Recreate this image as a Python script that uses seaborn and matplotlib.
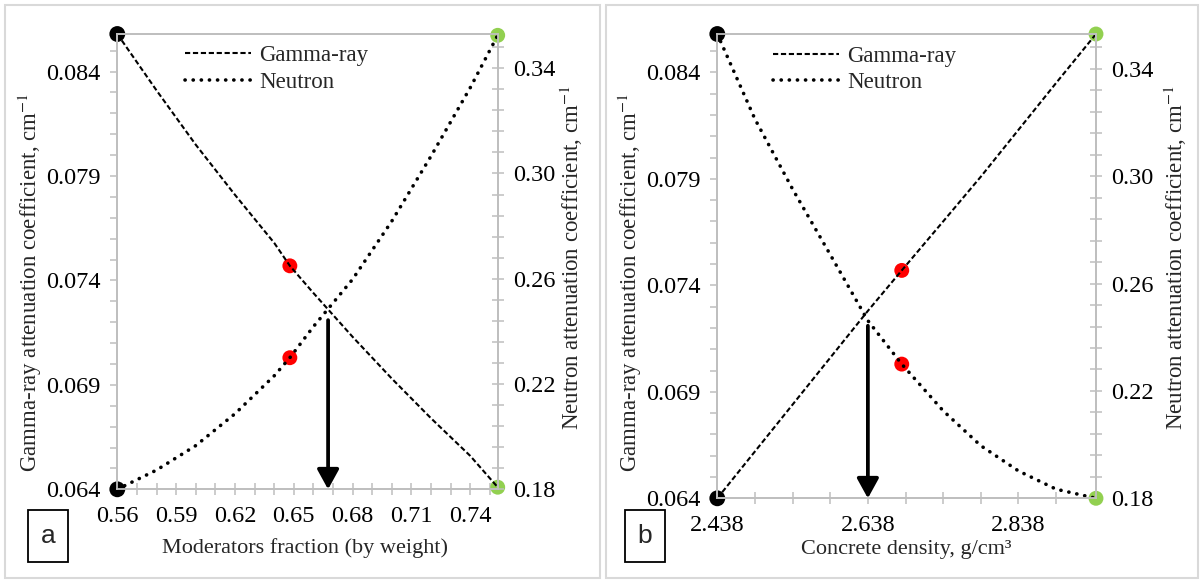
import matplotlib
matplotlib.use("Agg")
import matplotlib.pyplot as plt
from matplotlib.patches import Rectangle
from matplotlib.ticker import FixedLocator, FormatStrFormatter
import numpy as np
import seaborn as sns

# Panel (a): attenuation vs moderators fraction (by weight)
fraction = [0.560, 0.580, 0.600, 0.620, 0.640, 0.648, 0.660, 0.680, 0.700, 0.720, 0.740, 0.754]
gamma_fraction = [0.0858, 0.0831, 0.0805, 0.0781, 0.0758, 0.0747, 0.0734, 0.0713, 0.0693, 0.0674, 0.0656, 0.0641]
neutron_fraction = [0.1800, 0.1873, 0.1966, 0.2087, 0.2231, 0.2300, 0.2418, 0.2598, 0.2819, 0.3066, 0.3326, 0.3525]
crossing_fraction = 0.6675

# Panel (b): attenuation vs concrete density
density = [2.438, 2.488, 2.538, 2.588, 2.638, 2.683, 2.738, 2.788, 2.838, 2.888, 2.941]
gamma_density = [0.0640, 0.0662, 0.0684, 0.0706, 0.0728, 0.0747, 0.0770, 0.0791, 0.0813, 0.0835, 0.0858]
neutron_density = [0.3530, 0.3213, 0.2952, 0.2708, 0.2462, 0.2300, 0.2126, 0.1996, 0.1902, 0.1834, 0.1800]
crossing_density = 2.638

crossing_gamma = 0.0723
sample_index = 5

gamma_ticks = [0.064, 0.069, 0.074, 0.079, 0.084]
neutron_ticks = [0.18, 0.22, 0.26, 0.30, 0.34]
fraction_ticks = [0.56, 0.59, 0.62, 0.65, 0.68, 0.71, 0.74]
density_ticks = [2.438, 2.638, 2.838]

gamma_range = (0.064, 0.0858)
neutron_range = (0.18, 0.353)

sns.set_style("white")
plt.rcParams["font.family"] = ["Liberation Serif", "DejaVu Serif"]
plt.rcParams["mathtext.fontset"] = "stix"

GREY = "#bfbfbf"
GREEN = "#92d050"
RED = "#ff0000"
DASHED = (0, (2.5, 1.3))
DOTTED = (0, (0.05, 2.2))
FS = 16.5
TICK_FS = 17.5

fig = plt.figure(figsize=(12.03, 5.81), dpi=100)
W, H = 1203.0, 581.0


def px_rect(x0, y0, x1, y1):
    """Rectangle given in pixel coordinates (origin top-left) -> figure fraction."""
    return [x0 / W, (H - y1) / H, (x1 - x0) / W, (y1 - y0) / H]


def draw_panel(rect, x, gamma, neutron, xlim, xticks, xminor_step, xfmt,
               xlabel, crossing_x, legend_x, xlabel_xy, ylabel_l, ylabel_r):
    ax = fig.add_axes(rect)
    tw = ax.twinx()

    # end-point and sample markers (below the curves)
    sns.scatterplot(x=[x[0]], y=[gamma[0]], ax=ax, color="black", s=130,
                    edgecolor="none", clip_on=False, zorder=1)
    sns.scatterplot(x=[x[-1]], y=[gamma[-1]], ax=ax, color=GREEN, s=115,
                    edgecolor="none", clip_on=False, zorder=1)
    sns.scatterplot(x=[x[sample_index]], y=[gamma[sample_index]], ax=ax, color=RED,
                    s=115, edgecolor="none", clip_on=False, zorder=1)
    sns.lineplot(x=x, y=gamma, ax=ax, color="black", linewidth=1.5,
                 linestyle=DASHED, sort=False, legend=False, zorder=2)
    gline = ax.lines[-1]
    gline.set_dash_capstyle("butt")

    sns.scatterplot(x=[x[0]], y=[neutron[0]], ax=tw, color="black", s=130,
                    edgecolor="none", clip_on=False, zorder=1)
    sns.scatterplot(x=[x[-1]], y=[neutron[-1]], ax=tw, color=GREEN, s=115,
                    edgecolor="none", clip_on=False, zorder=1)
    sns.scatterplot(x=[x[sample_index]], y=[neutron[sample_index]], ax=tw, color=RED,
                    s=115, edgecolor="none", clip_on=False, zorder=1)
    sns.lineplot(x=x, y=neutron, ax=tw, color="black", linewidth=2.6,
                 linestyle=DOTTED, sort=False, legend=False, zorder=2)
    nline = tw.lines[-1]
    nline.set_dash_capstyle("round")

    # arrow from the crossing point down to the x axis
    ax.annotate("", xy=(crossing_x, gamma_range[0]), xytext=(crossing_x, crossing_gamma - 0.0002),
                arrowprops=dict(arrowstyle="-|>,head_length=0.6,head_width=0.33",
                                color="black", lw=2.7, shrinkA=0, shrinkB=0,
                                mutation_scale=20))

    ax.set_xlim(*xlim)
    ax.set_ylim(*gamma_range)
    tw.set_ylim(*neutron_range)

    ax.xaxis.set_major_locator(FixedLocator(xticks))
    ax.xaxis.set_minor_locator(FixedLocator(np.arange(xlim[0], xlim[1] + 1e-9, xminor_step)))
    ax.xaxis.set_major_formatter(FormatStrFormatter(xfmt))
    ax.yaxis.set_major_locator(FixedLocator(gamma_ticks))
    ax.yaxis.set_minor_locator(FixedLocator(np.arange(0.064, 0.0858, 0.001)))
    ax.yaxis.set_major_formatter(FormatStrFormatter("%.3f"))
    tw.yaxis.set_major_locator(FixedLocator(neutron_ticks))
    tw.yaxis.set_minor_locator(FixedLocator(np.arange(0.18, 0.353, 0.008)))
    tw.yaxis.set_major_formatter(FormatStrFormatter("%.2f"))

    ax.tick_params(axis="y", which="both", direction="out", length=5, width=1.1,
                   color=GREY, pad=7, labelsize=TICK_FS, labelcolor="black", left=True, right=False)
    ax.tick_params(axis="x", which="both", direction="inout", length=8, width=1.1,
                   color=GREY, pad=8, labelsize=TICK_FS, labelcolor="black", bottom=True, top=False)
    tw.tick_params(axis="y", which="both", direction="inout", length=8, width=1.1,
                   color=GREY, pad=7, labelsize=TICK_FS, labelcolor="black", right=True, left=False)

    for a in (ax, tw):
        for sp in a.spines.values():
            sp.set_color(GREY)
            sp.set_linewidth(1.3)

    ax.set_xlabel(xlabel, fontsize=16, va="center")
    ax.xaxis.set_label_coords(*xlabel_xy)
    ax.set_ylabel("Gamma-ray attenuation coefficient, cm$^{-1}$", fontsize=FS, va="center")
    ax.yaxis.set_label_coords(*ylabel_l)
    tw.set_ylabel("Neutron attenuation coefficient, cm$^{-1}$", fontsize=FS, va="center")
    tw.yaxis.set_label_coords(*ylabel_r)

    tw.legend(handles=[gline, nline], labels=["Gamma-ray", "Neutron"],
              loc="upper left", bbox_to_anchor=(legend_x, 0.975), frameon=False,
              fontsize=FS, handlelength=2.9, handletextpad=0.35, labelspacing=0.25,
              borderaxespad=0, borderpad=0)
    return ax, tw


draw_panel(px_rect(117.3, 34, 497.7, 489.3), fraction, gamma_fraction, neutron_fraction,
           (0.56, 0.754), fraction_ticks, 0.01, "%.2f",
           "Moderators fraction (by weight)", crossing_fraction, 0.178,
           (0.493, -0.129), (-0.23, 0.455), (1.195, 0.508))

draw_panel(px_rect(717.3, 34, 1096, 498.3), density, gamma_density, neutron_density,
           (2.438, 2.941), density_ticks, 0.05, "%.3f",
           "Concrete density, g/cm\u00b3", crossing_density, 0.147,
           (0.498, -0.111), (-0.23, 0.466), (1.209, 0.518))

# light panel frames
for x0, x1 in ((5, 600), (606, 1198)):
    r = px_rect(x0, 5, x1, 578)
    fig.add_artist(Rectangle((r[0], r[1]), r[2], r[3], transform=fig.transFigure,
                             fill=False, edgecolor="#d9d9d9", linewidth=1.5))

# panel letters
for tag, x0 in (("a", 28), ("b", 625)):
    r = px_rect(x0, 510, x0 + 40, 562)
    fig.add_artist(Rectangle((r[0], r[1]), r[2], r[3], transform=fig.transFigure,
                             fill=False, edgecolor="black", linewidth=1.3))
    fig.text(r[0] + r[2] / 2, r[1] + r[3] / 2, tag, transform=fig.transFigure,
             ha="center", va="center", fontsize=19, family=["Liberation Sans", "DejaVu Sans"])

fig.savefig("out.png", dpi=100)
